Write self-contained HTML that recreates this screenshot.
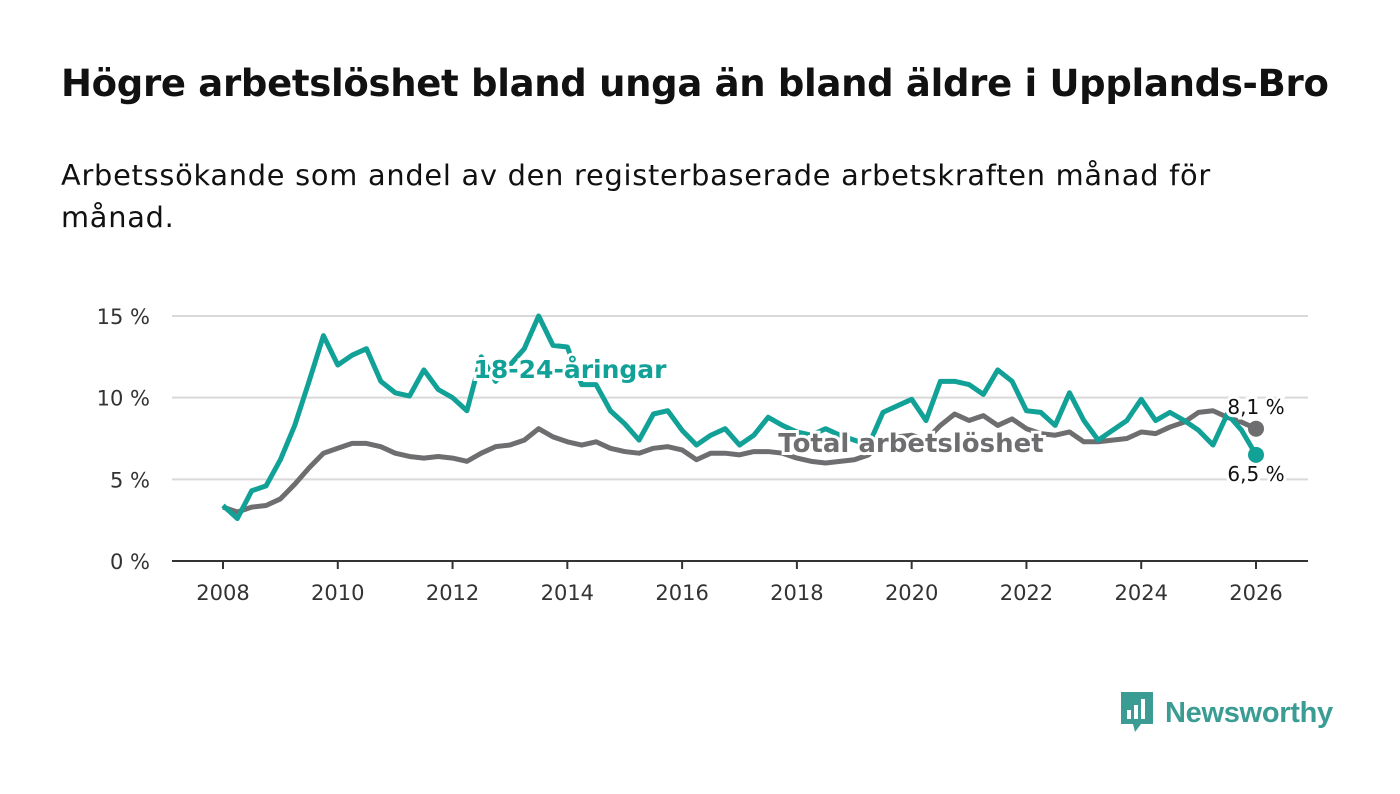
<!DOCTYPE html>
<html><head><meta charset="utf-8"><style>
body{margin:0;background:#fff;width:1400px;height:794px;overflow:hidden;font-family:"Liberation Sans","DejaVu Sans",sans-serif}
h1{position:absolute;left:61px;top:62px;margin:0;font-size:37px;font-weight:bold;color:#111;font-family:"DejaVu Sans",sans-serif;letter-spacing:-0.3px}
p{position:absolute;left:61px;top:154px;margin:0;font-size:28.8px;line-height:42px;color:#111;width:1250px;font-family:"DejaVu Sans",sans-serif;letter-spacing:0.75px}
</style></head><body>
<h1>Högre arbetslöshet bland unga än bland äldre i Upplands-Bro</h1>
<p>Arbetssökande som andel av den registerbaserade arbetskraften månad för månad.</p>
<svg id="c" width="1400" height="794" style="position:absolute;left:0;top:0"></svg>
<div style="position:absolute;left:1119px;top:692px;display:flex;align-items:center">
<svg width="36" height="42" viewBox="0 0 36 42"><path d="M2 0h32v32H22l-6 8-2-8H2z" fill="#3a9c93"/><rect x="8" y="18" width="4" height="9" fill="#fff"/><rect x="15" y="13" width="4" height="14" fill="#fff"/><rect x="22" y="7" width="4" height="20" fill="#fff"/></svg>
<span style="font-size:29px;font-weight:bold;color:#3a9c93;margin-left:10px;font-family:'Liberation Sans',sans-serif;letter-spacing:-0.3px">Newsworthy</span></div>
<script>
const years=[2008,2010,2012,2014,2016,2018,2020,2022,2024,2026];
const yTicks=[0,5,10,15];
const youth=[3.4,2.6,4.3,4.6,6.2,8.3,11,13.8,12,12.6,13,11,10.3,10.1,11.7,10.5,10,9.2,12.5,11,12,13,15,13.2,13.1,10.8,10.8,9.2,8.4,7.4,9,9.2,8,7.1,7.7,8.1,7.1,7.7,8.8,8.3,7.9,7.7,8.1,7.7,7.4,7.1,9.1,9.5,9.9,8.6,11,11,10.8,10.2,11.7,11,9.2,9.1,8.3,10.3,8.6,7.4,8,8.6,9.9,8.6,9.1,8.6,8,7.1,9,8,6.5];
const total=[3.3,3.0,3.3,3.4,3.8,4.7,5.7,6.6,6.9,7.2,7.2,7.0,6.6,6.4,6.3,6.4,6.3,6.1,6.6,7.0,7.1,7.4,8.1,7.6,7.3,7.1,7.3,6.9,6.7,6.6,6.9,7.0,6.8,6.2,6.6,6.6,6.5,6.7,6.7,6.6,6.3,6.1,6.0,6.1,6.2,6.5,7.3,7.6,7.7,7.4,8.3,9.0,8.6,8.9,8.3,8.7,8.1,7.8,7.7,7.9,7.3,7.3,7.4,7.5,7.9,7.8,8.2,8.5,9.1,9.2,8.8,8.5,8.1];
const NS='http://www.w3.org/2000/svg',svg=document.getElementById('c');
const X=t=>223+(t-2008)*(1256-223)/18, Y=v=>561-v*(561-316)/15;
function mk(tag,a){const e=document.createElementNS(NS,tag);for(const k in a)e.setAttribute(k,a[k]);svg.appendChild(e);return e;}
yTicks.forEach(v=>{if(v>0){const g=mk('line',{x1:172,x2:1308,y1:Y(v),y2:Y(v),stroke:'#d9d9d9','stroke-width':2});

}
const t=mk('text',{x:150,y:Y(v)+8,'text-anchor':'end','font-size':21,fill:'#333','font-family':'DejaVu Sans,sans-serif'});t.textContent=v+' %';

});
const ax=mk('line',{x1:172,x2:1308,y1:561,y2:561,stroke:'#333','stroke-width':2});


years.forEach(y=>{const tk=mk('line',{x1:X(y),x2:X(y),y1:561,y2:569,stroke:'#333','stroke-width':2});


const t=mk('text',{x:X(y),y:600,'text-anchor':'middle','font-size':21,fill:'#333','font-family':'DejaVu Sans,sans-serif'});t.textContent=y;

});
function line(d,c,n){const p=mk('polyline',{points:d.map((v,i)=>X(2008+i/4)+','+Y(v)).join(' '),fill:'none',stroke:c,'stroke-width':5,'stroke-linejoin':'round'});


const l=d.length-1;const dot=mk('circle',{cx:X(2008+l/4),cy:Y(d[l]),r:8,fill:c});

}
line(total,'#6e6e70','total-line');line(youth,'#11a197','youth-line');
function lab(x,y,s,c,n,fs,w,anchor){const t=mk('text',{x:x,y:y,'text-anchor':anchor||'middle','font-size':fs,'font-weight':w,fill:c,stroke:'#fff','stroke-width':6,'paint-order':'stroke','font-family':'DejaVu Sans,sans-serif'});t.textContent=s;

}
lab(570,378,'18-24-åringar','#11a197','youth-label',25,'bold');
lab(911,452,'Total arbetslöshet','#6e6e70','total-label',26,'bold');
lab(1256,414,'8,1 %','#111','total-end-value',20,'normal');
lab(1256,481,'6,5 %','#111','youth-end-value',20,'normal');
</script>
</body></html>
